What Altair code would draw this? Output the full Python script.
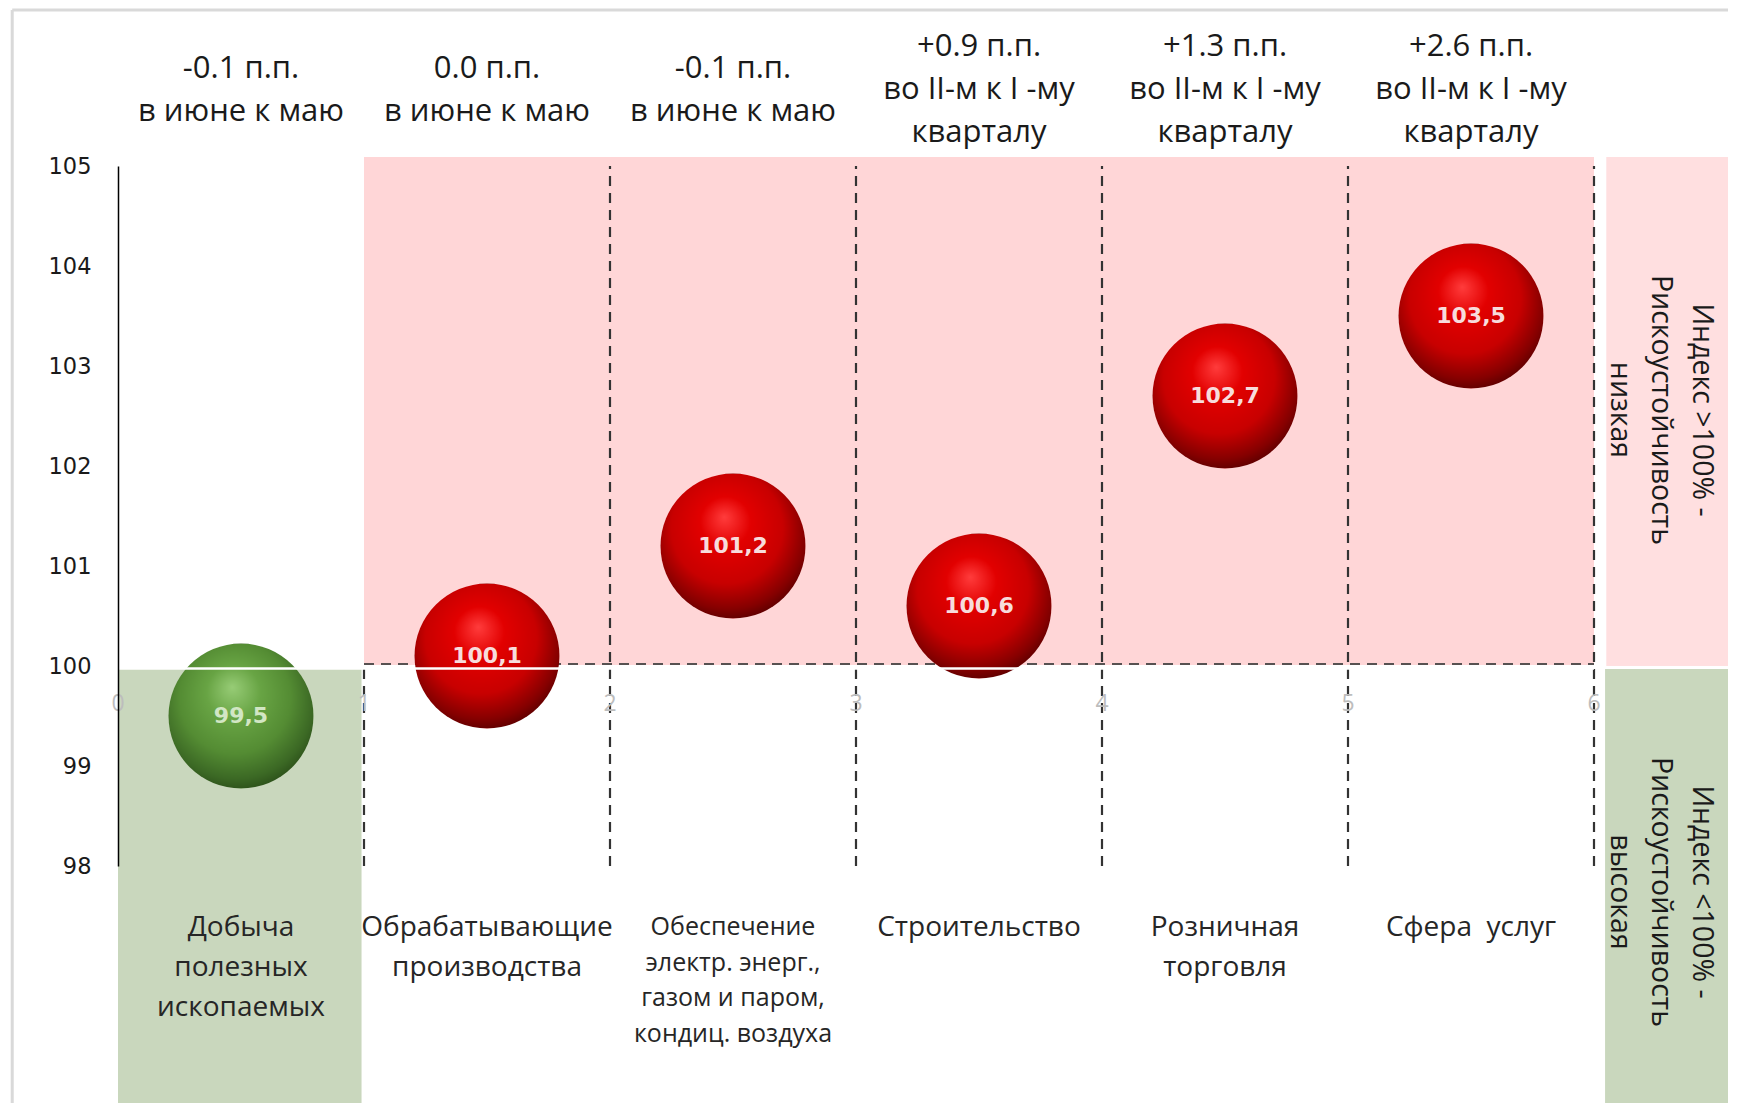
import altair as alt
import pandas as pd

# ---------------- data ----------------
sectors = [
    "Добыча\nполезных\nископаемых",
    "Обрабатывающие\nпроизводства",
    "Обеспечение\nэлектр. энерг.,\nгазом и паром,\nкондиц. воздуха",
    "Строительство",
    "Розничная\nторговля",
    "Сфера \u00a0услуг",
]
values = [99.5, 100.1, 101.2, 100.6, 102.7, 103.5]
changes = ["-0.1 п.п.", "0.0 п.п.", "-0.1 п.п.", "+0.9 п.п.", "+1.3 п.п.", "+2.6 п.п."]
periods = [
    "в июне к маю",
    "в июне к маю",
    "в июне к маю",
    "во II-м к I -му\nкварталу",
    "во II-м к I -му\nкварталу",
    "во II-м к I -му\nкварталу",
]
y_ticks = [98, 99, 100, 101, 102, 103, 104, 105]
x_ticks = [0, 1, 2, 3, 4, 5, 6]
zone_texts = [
    "Индекс >100% -\nРискоустойчивость\nнизкая",
    "Индекс <100% -\nРискоустойчивость\nвысокая",
]

# ---------------- layout (scale units) ----------------
HEAD_CENTER = 105.76
HEAD_LH = 43  # px
Y_SECT = 97.52
Y_BOTTOM = 95.3
Y_TOP_FRAME = 106.56
X_LEFT_FRAME = -0.43
X_RIGHT_END = 6.66

headers = [c + "\n" + p for c, p in zip(changes, periods)]
df = pd.DataFrame({
    "pos": [i + 0.5 for i in range(len(values))],
    "value": values,
    "label": [f"{v:.1f}".replace(".", ",") for v in values],
    "header": headers,
    # first line anchored so that the whole block is centred on HEAD_CENTER
    "hy": [HEAD_CENTER + (h.count("\n")) / 2 * HEAD_LH / 100 for h in headers],
    "sector": sectors,
    "idx": list(range(len(values))),
})
df_red = df[df["value"] >= 100]
df_green = df[df["value"] < 100]

zones = pd.DataFrame({
    "x": [1, 0, 6.05, 6.045],
    "x2": [6, 0.99, X_RIGHT_END, X_RIGHT_END],
    "y": [100.01, 99.97, 100, 99.97],
    "y2": [105.09, Y_BOTTOM, 105.09, Y_BOTTOM],
    "c": ["#ffd6d7", "#c9d7bd", "#ffdfe0", "#c9d7bd"],
})
side_text = pd.DataFrame({"x": [6.44, 6.44], "y": [102.56, 97.74], "t": zone_texts})

vlines = pd.DataFrame({
    "x": x_ticks[1:],
    "y": [98] * 6,
    "y2": [100 if x == 1 else 105 for x in x_ticks[1:]],
})
xlab = pd.DataFrame({"x": x_ticks, "t": [str(x) for x in x_ticks], "y": [99.62] * 7})

xs = alt.Scale(domain=[0, 6], nice=False, zero=False)
ys = alt.Scale(domain=[98, 105], nice=False, zero=False)
yaxis = alt.Axis(values=y_ticks, ticks=False, grid=False, title="",
                 labelFont="DejaVu Sans", labelFontSize=22.5, labelColor="#1a1a1a",
                 labelPadding=27, domainColor="#000000", domainWidth=1.5, zindex=1,
                 labelFlush=False, labelOverlap=False)


def X(f):
    return alt.X(f, type="quantitative", scale=xs, axis=None)


def Y(f):
    return alt.Y(f, type="quantitative", scale=ys, axis=yaxis)


# frame
frame_l = alt.Chart(pd.DataFrame({"x": [X_LEFT_FRAME], "y": [Y_TOP_FRAME], "y2": [Y_BOTTOM]})).mark_rule(
    color="#d9d9d9", strokeWidth=3).encode(x=X("x"), y=Y("y"), y2="y2")
frame_t = alt.Chart(pd.DataFrame({"x": [X_LEFT_FRAME], "x2": [X_RIGHT_END], "y": [Y_TOP_FRAME]})).mark_rule(
    color="#d9d9d9", strokeWidth=3).encode(x=X("x"), x2="x2", y=Y("y"))

rects = alt.Chart(zones).mark_rect().encode(
    x=X("x"), x2="x2", y=Y("y"), y2="y2",
    color=alt.Color("c:N", scale=None))

side = alt.Chart(side_text).mark_text(
    angle=90, align="center", baseline="middle", lineBreak="\n", lineHeight=41,
    font="Open Sans", fontSize=28.5, color="#1a1a1a").encode(x=X("x"), y=Y("y"), text="t:N")

dash_v = alt.Chart(vlines).mark_rule(color="#333333", strokeWidth=2.2, strokeDash=[10, 7]).encode(
    x=X("x"), y=Y("y"), y2="y2")
dash_h = alt.Chart(pd.DataFrame({"x": [1], "x2": [6], "y": [100.02]})).mark_rule(
    color="#3a3a3a", strokeWidth=2, strokeDash=[10, 7], opacity=0.85).encode(x=X("x"), x2="x2", y=Y("y"))

xlabels = alt.Chart(xlab).mark_text(font="Open Sans", fontSize=23, color="#bdbdbd",
                                    baseline="middle").encode(x=X("x"), y=Y("y"), text="t:N")

red_grad = {
    "gradient": "radial", "x1": 0.44, "y1": 0.3, "r1": 0.0, "x2": 0.47, "y2": 0.42, "r2": 0.62,
    "stops": [
        {"offset": 0.0, "color": "#ff3c3c"},
        {"offset": 0.28, "color": "#e20000"},
        {"offset": 0.62, "color": "#c80000"},
        {"offset": 0.86, "color": "#850000"},
        {"offset": 1.0, "color": "#520000"},
    ],
}
green_grad = {
    "gradient": "radial", "x1": 0.44, "y1": 0.3, "r1": 0.0, "x2": 0.47, "y2": 0.42, "r2": 0.62,
    "stops": [
        {"offset": 0.0, "color": "#97cc76"},
        {"offset": 0.3, "color": "#68a444"},
        {"offset": 0.62, "color": "#548c33"},
        {"offset": 0.86, "color": "#3b6824"},
        {"offset": 1.0, "color": "#284a17"},
    ],
}
BUBBLE = 21000  # vega circle: diameter = sqrt(size)
bub_r = alt.Chart(df_red).mark_circle(size=BUBBLE, fill=red_grad, opacity=1, strokeWidth=0).encode(
    x=X("pos"), y=Y("value"))
bub_g = alt.Chart(df_green).mark_circle(size=BUBBLE, fill=green_grad, opacity=1, strokeWidth=0).encode(
    x=X("pos"), y=Y("value"))

white = alt.Chart(pd.DataFrame({"x": [0], "x2": [6], "y": [99.975]})).mark_rule(
    color="#ffffff", strokeWidth=2.5).encode(x=X("x"), x2="x2", y=Y("y"))

lab_r = alt.Chart(df_red).mark_text(font="DejaVu Sans", fontWeight="bold", fontSize=22,
                                    color="#f7dcdc", baseline="middle").encode(
    x=X("pos"), y=Y("value"), text="label:N")
lab_g = alt.Chart(df_green).mark_text(font="DejaVu Sans", fontWeight="bold", fontSize=22,
                                      color="#d2e6c4", baseline="middle").encode(
    x=X("pos"), y=Y("value"), text="label:N")

header = alt.Chart(df).mark_text(font="Open Sans", fontSize=31, color="#1a1a1a", baseline="middle",
                                 lineBreak="\n", lineHeight=HEAD_LH).encode(
    x=X("pos"), y=Y("hy"), text="header:N")

sect_big = alt.Chart(df[df["idx"] != 2]).mark_text(
    font="Open Sans", fontSize=28, color="#262626", baseline="top", lineBreak="\n", lineHeight=40).encode(
    x=X("pos"), y=alt.Y("y:Q", scale=ys, axis=yaxis), text="sector:N").transform_calculate(y=str(Y_SECT))
sect_small = alt.Chart(df[df["idx"] == 2]).mark_text(
    font="Open Sans", fontSize=25, color="#262626", baseline="top", lineBreak="\n", lineHeight=35.5).encode(
    x=X("pos"), y=alt.Y("y:Q", scale=ys, axis=yaxis), text="sector:N").transform_calculate(y=str(Y_SECT - 0.01))

chart = alt.layer(
    frame_l, frame_t, rects, side, dash_v, dash_h, xlabels,
    bub_g, bub_r, white, lab_g, lab_r, header, sect_big, sect_small,
).properties(
    width=1476, height=700,
    autosize=alt.AutoSizeParams(type="none"),
    padding={"left": 110, "top": 158, "right": 134, "bottom": 237},
    background="#ffffff",
).configure_view(strokeWidth=0)

chart.save("out.html", embed_options={"renderer": "svg", "actions": False})
